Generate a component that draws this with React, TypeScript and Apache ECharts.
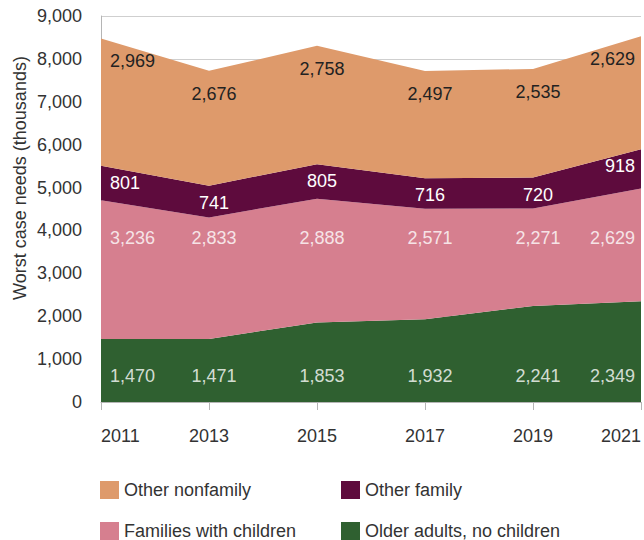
import React, { useEffect, useRef } from "react";
import * as echarts from "echarts";

const years = ["2011", "2013", "2015", "2017", "2019", "2021"];
const olderAdults = [1470, 1471, 1853, 1932, 2241, 2349];
const familiesWithChildren = [3236, 2833, 2888, 2571, 2271, 2629];
const otherFamily = [801, 741, 805, 716, 720, 918];
const otherNonfamily = [2969, 2676, 2758, 2497, 2535, 2629];

const yMin = 0;
const yMax = 9000;
const yInterval = 1000;

const COLORS = {
  green: "#2f6030",
  pink: "#d67f8f",
  purple: "#5e0b3d",
  orange: "#de9a6b",
};

const FONT = "'Liberation Sans', Arial, Helvetica, sans-serif";
const fmt = (v: number) => v.toLocaleString("en-US");

// fixed label levels (in axis units) used for bands whose labels sit at a constant height
const GREEN_LABEL_LEVEL = 600;
const PINK_LABEL_LEVEL = 3820;

export default function App() {
  const ref = useRef<HTMLDivElement>(null);

  useEffect(() => {
    document.body.style.margin = "0";
    if (!ref.current) return;
    const chart = echarts.init(ref.current, null, { renderer: "svg" });
    const last = years.length - 1;

    const itemLabel = (i: number) => {
      if (i === 0) return { align: "left", offset: [9, 0] };
      if (i === last) return { align: "right", offset: [-6, 0] };
      return { align: "center", offset: [5, 0] };
    };

    const areaSeries = (
      name: string,
      values: number[],
      color: string,
      labelColor: string,
      showLabel: boolean,
      distance: number
    ) => ({
      name,
      type: "line",
      stack: "total",
      symbol: "circle",
      symbolSize: 0,
      showSymbol: true,
      lineStyle: { width: 0 },
      itemStyle: { color },
      areaStyle: { color, opacity: 1 },
      emphasis: { disabled: true },
      silent: true,
      label: {
        show: showLabel,
        position: "bottom",
        distance,
        color: labelColor,
        fontSize: 18,
        fontFamily: FONT,
        formatter: (p: any) => fmt(p.value),
      },
      data: values.map((v, i) => ({ value: v, label: itemLabel(i) })),
    });

    const levelLabels = (values: number[], level: number, color: string) => ({
      type: "scatter",
      symbolSize: 0,
      silent: true,
      z: 10,
      label: {
        show: true,
        position: "inside",
        color,
        fontSize: 18,
        fontFamily: FONT,
      },
      data: values.map((v, i) => ({
        value: [i, level],
        label: { ...itemLabel(i), formatter: fmt(v) },
      })),
    });

    const legendBase = {
      itemWidth: 19,
      itemHeight: 18,
      icon: "rect",
      padding: 0,
      itemGap: 0,
      selectedMode: false,
      textStyle: { fontSize: 18, color: "#333", fontFamily: FONT },
    };

    chart.setOption({
      animation: false,
      textStyle: { fontFamily: FONT },
      grid: { left: 101, right: 2, top: 16, bottom: 138 },
      legend: [
        { ...legendBase, data: ["Other nonfamily"], left: 100, top: 481 },
        { ...legendBase, data: ["Other family"], left: 341, top: 481 },
        { ...legendBase, data: ["Families with children"], left: 100, top: 522 },
        { ...legendBase, data: ["Older adults, no children"], left: 341, top: 522 },
      ],
      xAxis: {
        type: "category",
        data: years,
        boundaryGap: false,
        axisLine: { show: true, lineStyle: { color: "#b5b5b5", width: 1 } },
        axisTick: { show: true, length: 8, lineStyle: { color: "#b5b5b5" } },
        axisLabel: {
          fontSize: 18,
          color: "#333",
          margin: 25,
          fontFamily: FONT,
          alignMinLabel: "left",
          alignMaxLabel: "right",
        },
        splitLine: { show: false },
      },
      yAxis: {
        type: "value",
        min: yMin,
        max: yMax,
        interval: yInterval,
        axisLine: { show: true, lineStyle: { color: "#b5b5b5" } },
        axisTick: { show: false },
        axisLabel: {
          fontSize: 18,
          color: "#333",
          margin: 19,
          fontFamily: FONT,
          formatter: (v: number) => fmt(v),
        },
        splitLine: { show: true, lineStyle: { color: "#cfcfcf", width: 1 } },
      },
      graphic: [
        {
          type: "text",
          x: 20,
          y: 178,
          rotation: Math.PI / 2,
          style: {
            text: "Worst case needs (thousands)",
            fontSize: 18,
            fontFamily: FONT,
            fill: "#333",
            align: "center",
            verticalAlign: "middle",
          },
        },
      ],
      series: [
        areaSeries("Older adults, no children", olderAdults, COLORS.green, "#fff", false, 0),
        areaSeries("Families with children", familiesWithChildren, COLORS.pink, "#fff", false, 0),
        areaSeries("Other family", otherFamily, COLORS.purple, "#fff", true, 8),
        areaSeries("Other nonfamily", otherNonfamily, COLORS.orange, "#222", true, 14),
        levelLabels(olderAdults, GREEN_LABEL_LEVEL, "#fff"),
        levelLabels(familiesWithChildren, PINK_LABEL_LEVEL, "#fff"),
      ],
    });

    return () => chart.dispose();
  }, []);

  return <div ref={ref} style={{ width: 644, height: 540 }} />;
}
